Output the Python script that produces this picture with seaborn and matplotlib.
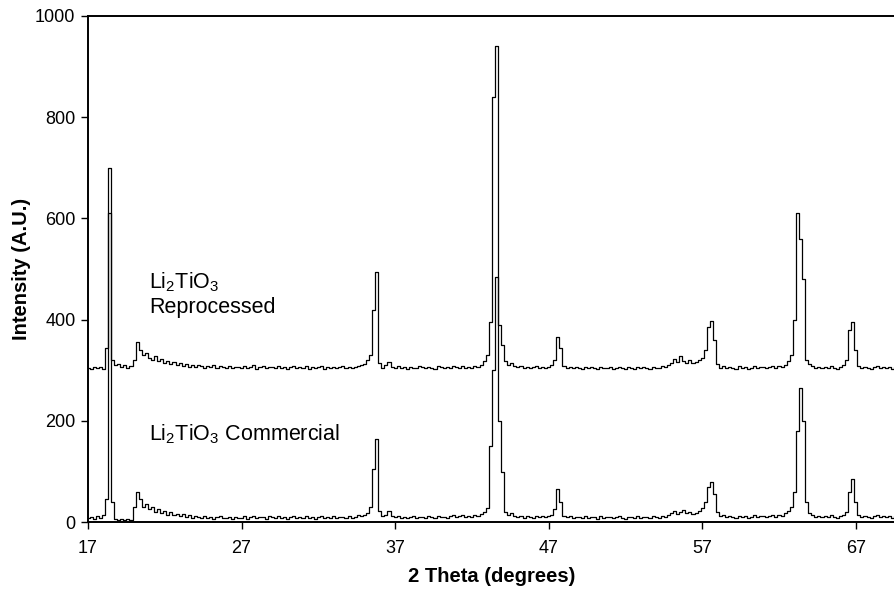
import numpy as np
import pandas as pd
import seaborn as sns
import matplotlib.pyplot as plt

# 2 theta grid (degrees), one reading every 0.2 deg
two_theta = np.round(np.arange(17.0, 69.61, 0.2), 1)

commercial = [
    8, 10, 7, 12, 9, 14, 45, 610, 40, 6,
    5, 6, 4, 6, 5, 30, 60, 45, 30, 35,
    25, 30, 20, 26, 18, 22, 15, 20, 14, 17,
    12, 16, 10, 14, 9, 13, 10, 8, 12, 9,
    11, 7, 10, 12, 8, 9, 11, 7, 10, 8,
    9, 12, 7, 10, 13, 8, 10, 11, 7, 12,
    10, 8, 13, 9, 11, 7, 10, 12, 8, 11,
    9, 12, 8, 10, 7, 11, 13, 8, 10, 9,
    12, 8, 10, 11, 9, 12, 8, 11, 14, 12,
    14, 18, 30, 105, 165, 22, 12, 15, 22, 13,
    10, 12, 9, 11, 8, 10, 12, 9, 11, 10,
    8, 12, 10, 9, 13, 11, 10, 8, 12, 14,
    10, 12, 15, 11, 13, 10, 14, 12, 16, 20,
    28, 150, 300, 485, 200, 100, 20, 14, 18, 12,
    10, 13, 9, 12, 11, 8, 12, 10, 13, 11,
    12, 15, 25, 65, 40, 12, 10, 13, 9, 11,
    10, 8, 12, 9, 11, 10, 7, 12, 9, 10,
    11, 8, 10, 12, 9, 7, 11, 10, 8, 12,
    9, 11, 10, 8, 12, 10, 9, 13, 11, 14,
    18, 22, 16, 20, 24, 18, 21, 17, 19, 22,
    28, 40, 70, 80, 55, 20, 12, 15, 10, 13,
    11, 9, 13, 10, 12, 8, 11, 14, 10, 12,
    13, 10, 12, 15, 11, 14, 12, 18, 22, 30,
    60, 180, 265, 200, 40, 18, 14, 10, 13, 11,
    12, 10, 14, 11, 9, 13, 15, 20, 60, 85,
    40, 14, 10, 13, 11, 9, 12, 14, 10, 12,
    11, 13, 9, 12,
]

reprocessed = [
    305, 303, 307, 304, 306, 302, 345, 700, 320, 310,
    312, 306, 310, 304, 309, 320, 355, 340, 330, 335,
    325, 320, 328, 318, 322, 315, 318, 312, 316, 310,
    314, 309, 312, 307, 311, 306, 310, 308, 305, 309,
    306, 310, 304, 308, 307, 305, 309, 304, 307, 306,
    305, 308, 304, 307, 310, 303, 306, 308, 304, 307,
    306, 304, 308, 305, 307, 303, 306, 309, 304, 306,
    305, 308, 303, 306, 304, 307, 309, 303, 306, 305,
    307, 304, 306, 308, 305, 307, 304, 306, 309, 310,
    312, 320, 330, 420, 495, 315, 305, 310, 316, 307,
    305, 308, 304, 306, 303, 307, 305, 304, 308, 306,
    304, 307, 305, 303, 308, 306, 304, 307, 305, 309,
    306, 304, 308, 305, 307, 304, 309, 306, 311, 318,
    330, 395, 840, 940, 390, 350, 318, 310, 314, 308,
    306, 309, 305, 307, 304, 306, 308, 304, 307, 305,
    306, 310, 320, 365, 345, 308, 305, 307, 304, 306,
    305, 303, 307, 304, 306, 305, 302, 307, 304, 305,
    306, 303, 305, 307, 304, 302, 306, 305, 303, 307,
    304, 306, 305, 303, 307, 305, 304, 308, 306, 310,
    314, 322, 316, 328, 318, 315, 320, 314, 317, 320,
    325, 340, 385, 398, 360, 312, 305, 309, 304, 307,
    305, 303, 308, 304, 306, 303, 305, 308, 304, 306,
    307, 304, 306, 309, 305, 308, 306, 311, 318, 330,
    400, 610, 560, 480, 320, 312, 308, 304, 307, 305,
    306, 304, 308, 305, 303, 307, 310, 320, 380, 395,
    340, 308, 304, 307, 305, 303, 306, 308, 304, 306,
    305, 307, 303, 306,
]

x_ticks = [17, 27, 37, 47, 57, 67]
y_ticks = [0, 200, 400, 600, 800, 1000]

sns.set_style("ticks")
plt.rcParams["font.family"] = ["Liberation Sans", "DejaVu Sans"]
plt.rcParams["mathtext.fontset"] = "custom"
plt.rcParams["mathtext.rm"] = "Liberation Sans"
plt.rcParams["mathtext.it"] = "Liberation Sans"
plt.rcParams["text.color"] = "black"
plt.rcParams["axes.labelcolor"] = "black"
plt.rcParams["xtick.color"] = "black"
plt.rcParams["ytick.color"] = "black"
plt.rcParams["axes.edgecolor"] = "black"

df = pd.DataFrame({"two_theta": np.concatenate([two_theta, two_theta]),
                   "intensity": commercial + reprocessed,
                   "sample": ["Commercial"] * len(two_theta) + ["Reprocessed"] * len(two_theta)})

fig = plt.figure(figsize=(8.95, 5.92), dpi=100)
ax = fig.add_axes([0.0983, 0.118, 0.902, 0.855])

sns.lineplot(data=df, x="two_theta", y="intensity", units="sample", estimator=None,
             color="black", lw=0.9, drawstyle="steps-mid", ax=ax, legend=False)

ax.set_xlim(17, 69.57)
ax.set_ylim(0, 1000)
ax.set_xticks(x_ticks)
ax.set_yticks(y_ticks)
ax.tick_params(labelsize=13, length=5, width=1)
ax.tick_params(axis="x", pad=8)
ax.tick_params(axis="y", pad=4)
ax.set_xlabel("2 Theta (degrees)", fontsize=14.5, fontweight="bold", labelpad=7)
ax.set_ylabel("Intensity (A.U.)", fontsize=14.5, fontweight="bold", labelpad=3)

ax.spines["right"].set_visible(False)
for s in ["left", "bottom", "top"]:
    ax.spines[s].set_linewidth(1.4)

ax.text(21.0, 475, "Li$_2$TiO$_3$", fontsize=15.5, va="center")
ax.text(21.0, 425, "Reprocessed", fontsize=15.5, va="center")
ax.text(21.0, 174, "Li$_2$TiO$_3$ Commercial", fontsize=15.5, va="center")

fig.savefig("out.png", dpi=100)
